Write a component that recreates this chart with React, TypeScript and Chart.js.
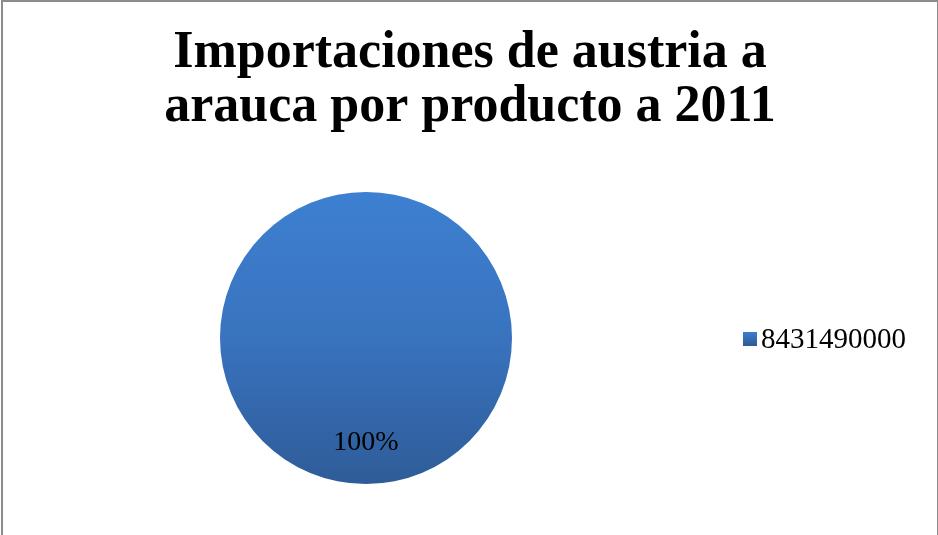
import React, { useEffect, useRef } from "react";
import { Chart, registerables } from "chart.js";

Chart.register(...registerables);

const titleLines = ["Importaciones de austria a", "arauca por producto a 2011"];
const categories = ["8431490000"];
const values = [100];
const percentLabels = ["100%"];

const FONT = "'Liberation Serif', 'DejaVu Serif', serif";

export default function App() {
  const ref = useRef<HTMLCanvasElement>(null);
  useEffect(() => {
    document.body.style.margin = "0";
    const canvas = ref.current!;
    const labelPlugin = {
      id: "pctLabels",
      afterDatasetsDraw(chart: any) {
        const ctx = chart.ctx;
        const meta = chart.getDatasetMeta(0);
        meta.data.forEach((arc: any, i: number) => {
          const { x, y, outerRadius } = arc.getProps(["x", "y", "outerRadius"], true);
          ctx.save();
          ctx.fillStyle = "#000";
          ctx.font = `28px ${FONT}`;
          ctx.textAlign = "center";
          ctx.textBaseline = "middle";
          ctx.fillText(percentLabels[i], x, y + outerRadius * 0.72);
          ctx.restore();
        });
      },
    };
    const titlePlugin = {
      id: "bigTitle",
      afterDraw(chart: any) {
        const ctx = chart.ctx;
        ctx.save();
        ctx.fillStyle = "#000";
        ctx.font = `bold 52px ${FONT}`;
        ctx.textAlign = "center";
        ctx.textBaseline = "alphabetic";
        titleLines.forEach((t, i) => ctx.fillText(t, 470, 67 + i * 54));
        ctx.restore();
      },
    };
    const legendPlugin = {
      id: "sideLegend",
      afterDraw(chart: any) {
        const ctx = chart.ctx;
        const area = chart.chartArea;
        const cy = (area.top + area.bottom) / 2;
        const x0 = 743;
        chart.data.labels.forEach((lab: string, i: number) => {
          const y = cy + i * 32;
          const g = ctx.createLinearGradient(0, y - 7, 0, y + 7);
          g.addColorStop(0, "#3D80D1");
          g.addColorStop(1, "#2E5C98");
          ctx.save();
          ctx.fillStyle = g;
          ctx.fillRect(x0, y - 6, 14, 14);
          ctx.fillStyle = "#000";
          ctx.font = `29px ${FONT}`;
          ctx.textAlign = "left";
          ctx.textBaseline = "middle";
          ctx.fillText(lab, x0 + 18, y + 2);
          ctx.restore();
        });
      },
    };
    const borderPlugin = {
      id: "frame",
      afterDraw(chart: any) {
        const ctx = chart.ctx;
        ctx.save();
        ctx.strokeStyle = "#8c8c8c";
        ctx.lineWidth = 2;
        ctx.strokeRect(2, 1, chart.width - 2, chart.height + 4);
        ctx.restore();
      },
    };
    const chart = new Chart(canvas, {
      type: "pie",
      data: {
        labels: categories,
        datasets: [
          {
            data: values,
            borderWidth: 0,
            backgroundColor: (c: any) => {
              const area = c.chart.chartArea;
              if (!area) return "#3A73BE";
              const g = c.chart.ctx.createLinearGradient(0, area.top, 0, area.bottom);
              g.addColorStop(0, "#3D80D1");
              g.addColorStop(0.5, "#3973BE");
              g.addColorStop(1, "#2E5C98");
              return g;
            },
          },
        ],
      },
      options: {
        responsive: false,
        animation: false,
        layout: { padding: { top: 192, bottom: 51, left: 0, right: 206 } },
        plugins: {
          tooltip: { enabled: false },
          legend: { display: false },
          title: { display: false },
        },
      },
      plugins: [labelPlugin, titlePlugin, legendPlugin, borderPlugin],
    });
    return () => chart.destroy();
  }, []);
  return <canvas ref={ref} width={938} height={535} style={{ display: "block" }} />;
}
